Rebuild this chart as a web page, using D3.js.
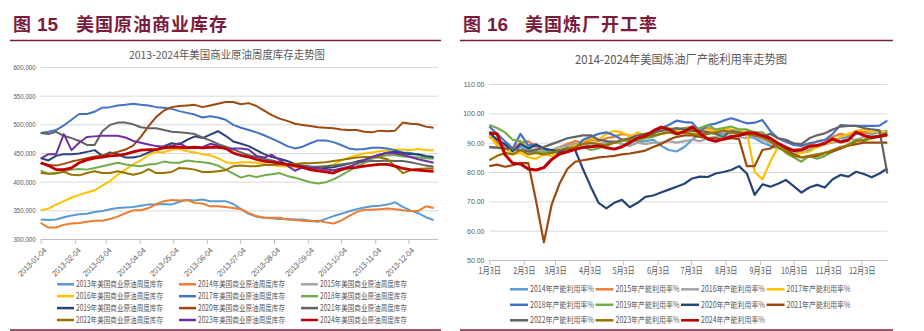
<!DOCTYPE html>
<html>
<head>
<meta charset="utf-8">
<script src="https://cdn.jsdelivr.net/npm/d3@7"></script>
<style>
  body { margin: 0; background: #fff; }
  svg { display: block; }
</style>
</head>
<body>
<svg width="924" height="331"></svg>
<script>
// weekly US commercial crude stocks, thousand barrels
let inv2013 = [334,333,334,338,341,343,344,347,349,352,354,355,356,358,360,360,361,360,365,368,367,369,366,366,366,361,352,344,339,337,336,335,335,334,334,332,330,335,340,344,348,352,355,357,358,360,364,356,350,345,338,333]
let inv2014 = [328,320,320,325,327,328,330,332,332,335,339,345,350,350,354,361,366,368,367,368,363,362,357,357,356,354,352,345,340,337,337,337,334,333,332,331,332,329,327,332,340,347,351,351,352,353,352,350,349,349,357,354]
let inv2015 = []
let inv2016 = [350,353,360,366,372,377,381,385,393,401,412,421,430,437,447,452,451,456,457,453,451,448,446,441,434,432,434,434,433,431,429,427,427,425,424,425,425,427,430,437,442,446,449,451,453,455,456,456,455,457,455,455]
let inv2017 = [485,487,490,498,508,518,518,522,529,530,533,534,536,534,533,530,529,527,523,520,517,512,514,512,508,499,494,490,486,481,475,469,462,458,461,467,472,472,469,464,458,456,457,459,459,458,455,451,450,447,443,441]
let inv2018 = [419,414,414,418,421,422,421,424,427,430,433,430,428,427,430,431,435,433,433,437,435,434,432,428,421,414,407,411,408,411,413,415,410,407,403,399,397,399,404,411,419,426,433,440,444,446,446,444,443,442,441,440]
let inv2019 = [441,437,445,448,448,449,452,455,445,451,448,442,442,445,451,456,462,467,465,473,479,476,482,488,480,470,466,462,455,448,443,440,436,431,428,426,423,424,425,428,431,435,438,443,447,451,452,450,448,448,445,443]
let inv2020 = [432,429,428,431,435,438,441,444,445,449,452,456,463,478,497,513,524,530,532,533,534,530,533,536,539,539,535,537,532,524,516,510,506,501,499,497,495,494,493,491,490,490,487,486,489,488,489,503,501,500,496,494]
let inv2021 = [485,483,487,480,476,471,464,464,488,499,503,503,500,495,493,493,490,487,486,485,483,477,472,466,461,456,451,446,443,440,437,434,431,428,427,426,426,427,428,430,432,434,435,436,436,437,436,436,434,431,428,426]
let inv2022 = [415,414,415,417,412,411,415,418,415,415,418,415,412,415,422,415,415,417,424,423,421,417,417,418,420,427,428,427,427,429,429,430,430,431,432,432,433,434,436,438,440,442,443,443,442,439,427,415,420,422,423,423]
let inv2023 = [440,448,448,483,455,468,478,479,480,480,480,477,471,468,465,462,461,462,467,460,459,460,466,463,457,458,458,456,445,442,447,438,428,419,425,424,424,421,420,423,426,431,438,443,447,450,449,447,443,439,436,433]
let inv2024 = [433,428,421,421,424,433,438,441,443,445,446,448,452,455,456,456,459,460,460,459,460,459,460,460,458,450,446,443,439,436,434,432,430,428,425,421,419,417,415,421,424,425,427,429,430,430,427,423,421,420,419,418]

let stockYears = [2013, 2014, 2015, 2016, 2017, 2018, 2019, 2020, 2021, 2022, 2023, 2024]
let stockSeries = [inv2013, inv2014, inv2015, inv2016, inv2017, inv2018, inv2019, inv2020, inv2021, inv2022, inv2023, inv2024]
let stockTicks = [300, 350, 400, 450, 500, 550, 600]

// weekly US refinery utilisation, %
let util2014 = [92.8,91,89,87.5,88.5,87,86.5,86,86.5,87,88.5,89.5,90,88.5,89,90,90.5,89.5,89,90,90.5,91,89,87.5,87,88.5,91,93,93.5,93.5,93,93.5,93,92.5,91.5,90,89,88,87.5,87,86.5,87.5,88.5,89.5,90.5,91.5,92,93,93.5,93,93.5,94]
let util2015 = [92,90,88.5,88,90,90.5,88.5,87.5,87,88.5,89.5,90.5,90,91,90.5,91.5,92,93,92.5,91.5,93,93.5,94.5,94,94.5,95,95.5,94.5,95,94,94.5,93.5,93,94,93,91.5,90,89,88,87.5,88,89,90.5,91,92,93,92.5,94,93.5,93.5,94,93]
let util2016 = [88.5,88.2,88,87.8,87.5,87,88,87,87.5,88.5,89,89.5,90,89,89.5,90,90.5,89.5,89,90,89.5,90,90,90.5,90,90.5,91,90.5,91.5,92,91.5,92.5,92,91.5,92,91,90,89.5,88.5,87,87.5,88,88.5,89.5,90,90.5,91.5,91,92,92.5,92,92.5]
let util2017 = [92.5,89,88,86,86.5,85,84.5,86,85.5,86.5,88,89,90.5,91.5,91,93,94,93.5,92,93.5,92.5,93.5,94,95,94,93.5,94,93,94.5,94,95,94.5,94,93.5,80,77.5,83.5,88.5,87,86,86.5,87,88.5,89.5,90.5,92,93,94,94.5,93.5,94,93.5]
let util2018 = [95.5,93,90.5,88,93,89,89.5,88,87,86.5,87,88,91,92,93,93.5,92.5,91,90.5,91.5,92,93,95,96,97.5,97,96.8,93.8,96,96.5,97.5,98.3,97.5,96.6,96.8,97.7,94,91.5,90.3,89.2,88.9,89.8,90.3,90.9,93,96,95.8,95.7,95.7,95.7,95.8,97.5]
let util2019 = [96,95,93.5,91,90.5,88,87,86.5,87,87.5,88,87.5,88.5,87.5,88,89.5,90,90.5,91,90.5,91.5,92,93,93.5,94.5,95,94.5,95,96,94.5,95,95.5,94.5,94.5,93.5,93.5,91.5,89,86.5,85,83.5,85.5,84.5,85.5,87,88,89.5,91,90.5,91.5,92.5,93.5]
let util2020 = [93.5,91,89.5,87,89.5,88,89.2,88,87.5,87,88,87.5,81,75,69.5,67.6,69.5,70.5,68,69.5,71.5,72,73,74,75,76,77.8,78.4,78.3,79.5,80,80.7,82,79.5,72.2,75.8,75,76,77.3,75.2,73,74.7,75.6,74.7,77.5,79,78.4,80.1,79.3,78.2,79.5,81.2]
let util2021 = [82,82.5,81.8,82.3,83,83,70,56,69,76,81,83.5,84,84.5,85,85.2,85.5,86,86.3,86.8,87.3,88.5,89.5,91,92,92.5,92.5,92,91.5,91.5,91,91.5,91.2,82,82,87.5,88,89.8,88,86,85,85.2,85.5,86.5,87,88,89,89.5,90,90,90,90]
let util2022 = [88.5,88.3,88,87.8,87.5,87,87.5,88.5,89.5,90.5,91.5,92,92.5,92.5,91,90.5,90,91,91.5,92.5,93,93.5,94,94.5,95,94.5,94,94,93.5,93,92,94,93.5,93,92.5,92,93,91.5,91,89.8,89.5,91.5,92.5,93.2,94.5,95.5,95.7,95.7,95,94.5,94.2,79.5]
let util2023 = [84,85.5,86.5,86,87.5,86,86.5,86,86.5,87.5,88,88.5,89.5,90,89.5,89,90,91,91,91.5,92,92.5,93,93.5,93,93.5,93,92.5,93,93.5,94,93.5,93,93,92.5,92,90.5,88.5,87,85.5,85,85.5,86,86.5,87.5,88.5,89,90.5,91,92,92,92.5]
let util2024 = [93.4,93,86,83,82.7,81,80.7,81.5,84.3,86.1,86.9,87.7,88.4,88.6,88.9,88.3,87.8,88.6,90,91.5,92.3,94,95.3,94.6,93,93.8,95.3,93.2,91.2,90.5,91.2,92,92.4,93.3,93.3,92.4,91.5,89.8,88.4,87.3,87.5,88.8,89,89.8,91.3,90.2,90.8,93.6,92.5,91.7,92.2,92.8]

let utilYears = [2014, 2015, 2016, 2017, 2018, 2019, 2020, 2021, 2022, 2023, 2024]
let utilSeries = [util2014, util2015, util2016, util2017, util2018, util2019, util2020, util2021, util2022, util2023, util2024]
let utilTicks = [50, 60, 70, 80, 90, 100, 110]

let stockColors = ['#5B9BD5', '#ED7D31', '#A5A5A5', '#FFC000', '#4472C4', '#70AD47', '#264478', '#9E480E', '#636363', '#997300', '#7030A0', '#C00000']
let utilColors = ['#5B9BD5', '#ED7D31', '#A5A5A5', '#FFC000', '#4472C4', '#70AD47', '#264478', '#9E480E', '#636363', '#997300', '#C00000']

let svg = d3.select('svg')
let cjk = '"Noto Sans CJK SC", sans-serif'
let latin = '"Liberation Sans", Arial, sans-serif'
let maroon = '#7B1C3C'
let grey = '#595959'

// the original uses a narrow font: squeeze text to a width
function fit (sel, w) {
  sel.attr('textLength', w).attr('lengthAdjust', 'spacingAndGlyphs')
}
function shrink (sel, k) {
  sel.each(function () {
    d3.select(this)
      .attr('textLength', this.getComputedTextLength() * k)
      .attr('lengthAdjust', 'spacingAndGlyphs')
  })
}

function header (x0, x1, num, numX, name, nameX) {
  let g = svg.append('g')
    .style('font-weight', 700)
    .style('font-size', '18px')
    .style('fill', maroon)
  g.append('text').attr('x', x0 + 3).attr('y', 31).style('font-family', cjk).text('图')
  g.append('text').attr('x', numX).attr('y', 31).style('font-family', latin).style('font-size', '19px').text(num)
  g.append('text').attr('x', nameX).attr('y', 31).style('font-family', cjk).style('letter-spacing', '1px').text(name)
  svg.append('line')
      .attr('x1', x0).attr('x2', x1)
      .attr('y1', 40.5).attr('y2', 40.5)
      .attr('stroke', maroon).attr('stroke-width', 1.5)
  svg.append('line')
      .attr('x1', x0).attr('x2', x1)
      .attr('y1', 330).attr('y2', 330)
      .attr('stroke', maroon).attr('stroke-width', 1.5)
}

function panel (p) {
  let x = d3.scaleTime().domain(p.xDomain).range(p.xRange)
  let y = d3.scaleLinear().domain(p.yDomain).range(p.yRange)
  let w = p.xRange[1] - p.xRange[0]
  let g = svg.append('g')

  // chart title
  g.append('text')
      .attr('x', p.titleX)
      .attr('y', p.titleY)
      .style('font-family', cjk)
      .style('font-size', p.titleSize + 'px')
      .style('fill', grey)
      .style('text-anchor', 'middle')
      .text(p.title)
      .call(fit, p.titleW)

  // horizontal gridlines with value labels
  g.append('g')
      .attr('transform', `translate(${p.xRange[0]},0)`)
      .call(d3.axisLeft(y).tickValues(p.yTicks).tickFormat(p.yFormat).tickSize(-w).tickPadding(5))
      .call(a => a.select('.domain').remove())
      .call(a => a.selectAll('line').attr('stroke', '#D9D9D9'))
      .call(a => a.selectAll('text')
        .attr('fill', grey)
        .style('font-family', latin)
        .style('font-size', '8px')
        .call(shrink, p.yShrink))

  // month axis
  let xa = g.append('g')
      .attr('transform', `translate(0,${p.yRange[0]})`)
      .call(d3.axisBottom(x).tickValues(p.xTicks).tickFormat(p.xFormat).tickSize(5).tickSizeOuter(0))
  xa.select('.domain').attr('stroke', '#BFBFBF')
  xa.selectAll('line').attr('stroke', '#BFBFBF')
  xa.selectAll('text').attr('fill', grey).call(p.styleX)

  // one line per year, later years drawn on top
  let line = d3.line()
    .x((d, i) => x(p.dates[i]))
    .y(d => y(d))

  g.append('g')
    .selectAll('path')
    .data(p.series)
    .enter()
    .append('path')
      .attr('d', d => d.length ? line(d) : null)
      .attr('fill', 'none')
      .attr('stroke', (d, i) => p.colors[i])
      .attr('stroke-width', (d, i) => i === p.series.length - 1 ? p.lastWidth : p.lineWidth)
      .attr('stroke-linejoin', 'round')

  // legend
  let lg = g.append('g')
    .selectAll('g')
    .data(p.years)
    .enter()
    .append('g')
      .attr('transform', (d, i) => `translate(${p.legend.x0 + (i % p.legend.cols) * p.legend.dx},${p.legend.y0 + Math.floor(i / p.legend.cols) * p.legend.dy})`)
  lg.append('line')
      .attr('x1', 0).attr('x2', p.legend.swatch)
      .attr('stroke', (d, i) => p.colors[i])
      .attr('stroke-width', 2.5)
  lg.append('text')
      .attr('x', p.legend.swatch + 2)
      .attr('dy', '0.35em')
      .style('font-family', cjk)
      .style('font-size', '8.5px')
      .style('fill', grey)
      .text(p.legend.label)
      .call(fit, p.legend.textW)
}

header(10, 441, '15', 37, '美国原油商业库存', 76)
header(460, 893, '16', 487, '美国炼厂开工率', 525)

panel({
  title: '2013-2024年美国商业原油周度库存走势图',
  titleX: 227, titleY: 59, titleSize: 11, titleW: 196,
  xDomain: [new Date(2013, 0, 4), new Date(2013, 11, 31)],
  xRange: [40.7, 438],
  yDomain: [300, 600],
  yRange: [239, 67],
  yTicks: stockTicks,
  yFormat: d => d3.format(',')(d * 1000),
  yShrink: 0.77,
  xTicks: d3.range(12).map(m => new Date(2013, m, 4)),
  xFormat: d3.timeFormat('%Y-%m-%d'),
  styleX: t => t
    .attr('x', 0).attr('y', 0).attr('dy', '0.35em')
    .attr('transform', 'translate(4,10) rotate(-45)')
    .style('text-anchor', 'end')
    .style('font-family', latin)
    .style('font-size', '8px')
    .call(shrink, 0.9),
  dates: d3.range(52).map(i => new Date(2013, 0, 4 + 7 * i)),
  series: stockSeries,
  colors: stockColors,
  years: stockYears,
  lineWidth: 2,
  lastWidth: 2.8,
  legend: { x0: 57, dx: 122, y0: 284.3, dy: 11.9, cols: 3, swatch: 17, textW: 87, label: d => d + '年美国商业原油周度库存' }
})

panel({
  title: '2014-2024年美国炼油厂产能利用率走势图',
  titleX: 681, titleY: 64, titleSize: 12, titleW: 212,
  xDomain: [new Date(2014, 0, 3), new Date(2014, 11, 26)],
  xRange: [489.3, 887.3],
  yDomain: [50, 110],
  yRange: [260, 84],
  yTicks: utilTicks,
  yFormat: d3.format('.2f'),
  yShrink: 0.86,
  xTicks: d3.range(12).map(m => new Date(2014, m, 3)),
  xFormat: d => `${d.getMonth() + 1}月${d.getDate()}日`,
  styleX: t => t
    .attr('y', 8)
    .style('font-family', cjk)
    .style('font-size', '9px')
    .call(shrink, 0.8),
  dates: d3.range(52).map(i => new Date(2014, 0, 3 + 7 * i)),
  series: utilSeries,
  colors: utilColors,
  years: utilYears,
  lineWidth: 2.2,
  lastWidth: 3,
  legend: { x0: 510, dx: 85.5, y0: 289.3, dy: 15.5, cols: 4, swatch: 18, textW: 64, label: d => d + '年产能利用率%' }
})
</script>
</body>
</html>
